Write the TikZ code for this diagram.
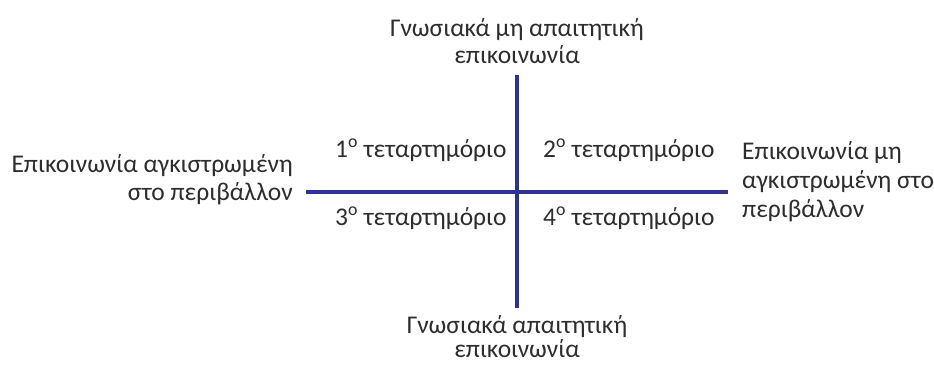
\documentclass[tikz,border=0pt]{standalone}
\usepackage{fontspec}
\setmainfont{Carlito}
\definecolor{axisblue}{RGB}{46,49,146}
\definecolor{txt}{RGB}{45,45,45}
\begin{document}
\begin{tikzpicture}[x=1pt,y=-1pt,
  lbl/.style={inner sep=0pt,text=txt,font=\fontsize{25.5}{30}\selectfont},
  axis/.style={draw=axisblue,line width=4pt}]
\useasboundingbox (0,0) rectangle (934,365);
% axes end points
\coordinate (top) at (517,75);
\coordinate (bot) at (517,308);
\coordinate (lft) at (306,192);
\coordinate (rgt) at (728,192);
\draw[axis] (top) -- (bot);
\draw[axis] (lft) -- (rgt);
% top label
\node[lbl,anchor=base] (t1) at (517,36) {Γνωσιακά μη απαιτητική};
\node[lbl,anchor=base] (t2) at (517,63) {επικοινωνία};
% bottom label
\node[lbl,anchor=base] (b1) at (517,333) {Γνωσιακά απαιτητική};
\node[lbl,anchor=base] (b2) at (517,357) {επικοινωνία};
% left label
\node[lbl,anchor=base east] (l1) at (293,172) {Επικοινωνία αγκιστρωμένη};
\node[lbl,anchor=base east] (l2) at (293,200) {στο περιβάλλον};
% right label
\node[lbl,anchor=base west] (r1) at (742,159) {Επικοινωνία μη};
\node[lbl,anchor=base west] (r2) at (742,188) {αγκιστρωμένη στο};
\node[lbl,anchor=base west] (r3) at (742,217) {περιβάλλον};
% quadrants
\node[lbl,anchor=base west] (q1) at (335,157) {1\textsuperscript{ο} τεταρτημόριο};
\node[lbl,anchor=base west] (q2) at (543,157) {2\textsuperscript{ο} τεταρτημόριο};
\node[lbl,anchor=base west] (q3) at (335,225) {3\textsuperscript{ο} τεταρτημόριο};
\node[lbl,anchor=base west] (q4) at (543,225) {4\textsuperscript{ο} τεταρτημόριο};
\end{tikzpicture}
\end{document}
